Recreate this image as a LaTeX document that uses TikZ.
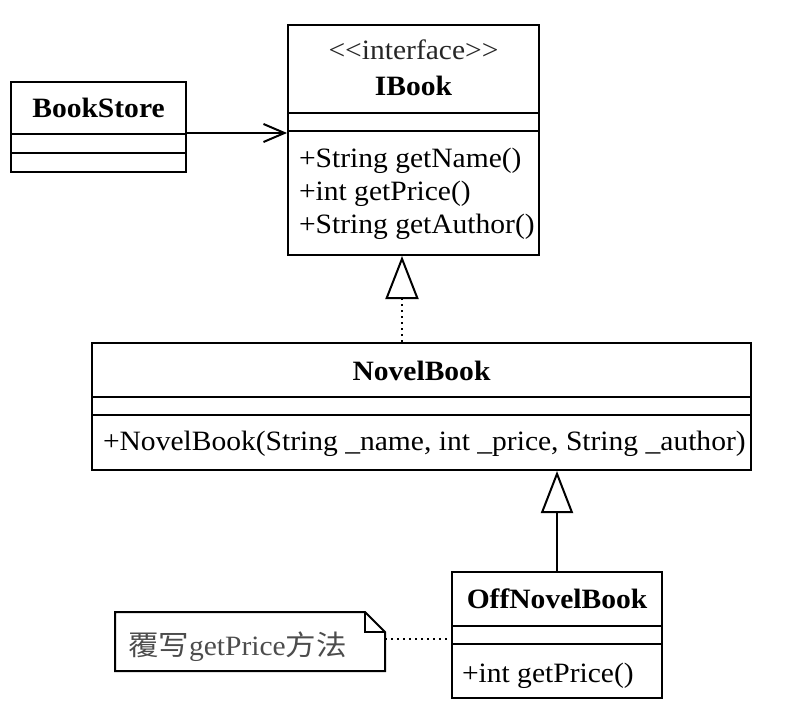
\documentclass[tikz,border=0pt]{standalone}
\usepackage{fontspec}
\setmainfont{Liberation Serif}[FakeStretch=1.055]
\newfontfamily\cjk{Noto Sans CJK SC}[FakeStretch=1.09]
\usetikzlibrary{arrows.meta}
\tikzset{
  classbox/.style={draw, line width=1pt, inner sep=0pt},
  assoc/.style={-{Straight Barb[length=10.5pt, width=9pt]}},
  realize/.style={dotted, -{Triangle[open, length=21.5pt, width=16.5pt]}},
  inherit/.style={-{Triangle[open, length=21pt, width=16pt]}},
  notelink/.style={dotted}
}
\begin{document}
\begin{tikzpicture}[x=0.5pt, y=-0.5pt, line width=1pt, font=\fontsize{14}{16}\selectfont]
  \useasboundingbox (0,0) rectangle (797,717);

  % Class boxes with manual coordinates
  \node[classbox, minimum width=87.5pt, minimum height=45pt] (bookstore) at (98.5,127) {};
  \node[classbox, minimum width=125.5pt, minimum height=115pt] (ibook) at (413.5,140) {};
  \node[classbox, minimum width=329.5pt, minimum height=63.5pt] (novelbook) at (421.5,406.5) {};
  \node[classbox, minimum width=105pt, minimum height=63pt] (offnovelbook) at (557,635) {};
  \node[minimum width=134pt, minimum height=28.5pt, inner sep=0pt] (note) at (250,641.5) {};

  % Compartments
  \draw (bookstore.west |- 0,134) -- (bookstore.east |- 0,134);
  \draw (bookstore.west |- 0,153) -- (bookstore.east |- 0,153);
  \draw (ibook.west |- 0,113) -- (ibook.east |- 0,113);
  \draw (ibook.west |- 0,131) -- (ibook.east |- 0,131);
  \draw (novelbook.west |- 0,397) -- (novelbook.east |- 0,397);
  \draw (novelbook.west |- 0,415) -- (novelbook.east |- 0,415);
  \draw (offnovelbook.west |- 0,626) -- (offnovelbook.east |- 0,626);
  \draw (offnovelbook.west |- 0,644) -- (offnovelbook.east |- 0,644);

  % Note with folded corner
  \draw (note.north west) -- ([xshift=-10pt]note.north east) -- ([yshift=-10pt]note.north east)
    -- (note.south east) -- (note.south west) -- cycle;
  \draw ([xshift=-10pt]note.north east) |- ([yshift=-10pt]note.north east);

  % Texts
  \node[anchor=base] (bookstorename) at (98.5,118) {\textbf{BookStore}};
  \node[anchor=base, text=black!85] (ibookstereo) at (413.5,60) {<\kern0pt<interface>\kern0pt>};
  \node[anchor=base] (ibookname) at (413.5,96) {\textbf{IBook}};
  \node[anchor=base west, inner sep=0pt] (getname) at (298,167) {+String getName()};
  \node[anchor=base west, inner sep=0pt] (getprice) at (298,200) {+int getPrice()};
  \node[anchor=base west, inner sep=0pt] (getauthor) at (298,233) {+String getAuthor()};
  \node[anchor=base] (novelbookname) at (421.5,380) {\textbf{NovelBook}};
  \node[anchor=base west, inner sep=0pt] (novelctor) at (102,450) {+NovelBook(String \_name, int \_price, String \_author)};
  \node[anchor=base] (offnovelbookname) at (557,608) {\textbf{OffNovelBook}};
  \node[anchor=base west, inner sep=0pt] (offgetprice) at (461,682) {+int getPrice()};
  \node[anchor=base west, inner sep=0pt, text=black!70] (notetext) at (127,655) {{\cjk 覆写}getPrice{\cjk 方法}};

  % Edges
  \draw[assoc] (bookstore.east |- 0,133) -- (ibook.west |- 0,133);
  \draw[realize] (novelbook.north -| 402,0) -- (ibook.south -| 402,0);
  \draw[inherit] (offnovelbook.north) -- (novelbook.south -| offnovelbook.north);
  \draw[notelink] (note.east |- 0,639) -- (offnovelbook.west |- 0,639);
\end{tikzpicture}
\end{document}
